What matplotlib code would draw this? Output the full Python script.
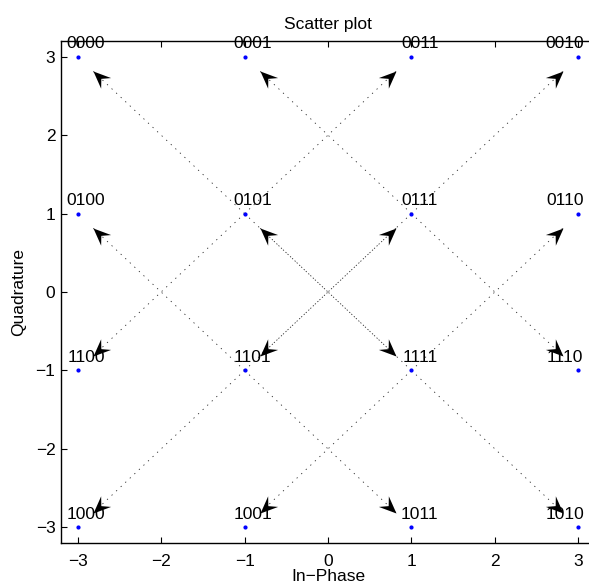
import numpy as np
import matplotlib
matplotlib.use('Agg')
import matplotlib.pyplot as plt
from matplotlib.path import Path
from matplotlib.markers import MarkerStyle
from matplotlib.transforms import Affine2D

plt.rcParams['font.family'] = ['Liberation Sans', 'DejaVu Sans']

# 16-QAM constellation (Gray mapped)
sym_i = [-3, -1, 1, 3, -3, -1, 1, 3, -3, -1, 1, 3, -3, -1, 1, 3]
sym_q = [3, 3, 3, 3, 1, 1, 1, 1, -1, -1, -1, -1, -3, -3, -3, -3]
sym_labels = ['0000', '0001', '0011', '0010',
              '0100', '0101', '0111', '0110',
              '1100', '1101', '1111', '1110',
              '1000', '1001', '1011', '1010']

# transitions drawn as arrows (source symbol -> target symbol)
trans_from = ['0101', '0101', '0101', '0101',
              '0111', '0111', '0111', '0111',
              '1101', '1101', '1101', '1101',
              '1111', '1111', '1111', '1111']
trans_to = ['0000', '0011', '1100', '1111',
            '0001', '0010', '1101', '1110',
            '0100', '1000', '1011', '0111',
            '0101', '0110', '1001', '1010']

x_ticks = [-3, -2, -1, 0, 1, 2, 3]
y_ticks = [-3, -2, -1, 0, 1, 2, 3]

W, H = 589, 583
fig = plt.figure(figsize=(W / 100, H / 100), dpi=100)
ax = fig.add_axes([61 / W, (H - 543) / H, (595 - 61) / W, (543 - 41) / H])
ax.set_xlim(-3.2, 3.2)
ax.set_ylim(-3.2, 3.2)
ax.set_xticks(x_ticks)
ax.set_yticks(y_ticks)

pos = {lab: (x, y) for lab, x, y in zip(sym_labels, sym_i, sym_q)}

head_path = Path([(0, 0), (-1, 0.42), (-0.62, 0), (-1, -0.42), (0, 0)],
                 [Path.MOVETO, Path.LINETO, Path.LINETO, Path.LINETO, Path.CLOSEPOLY])
frac = 0.91
for s, t in zip(trans_from, trans_to):
    x0, y0 = pos[s]
    x1, y1 = pos[t]
    xt = x0 + frac * (x1 - x0)
    yt = y0 + frac * (y1 - y0)
    ax.plot([x0, xt], [y0, yt], color='k', lw=0.6, ls=(0, (1.5, 6)), alpha=0.85)
    p0 = ax.transData.transform((x0, y0))
    p1 = ax.transData.transform((xt, yt))
    ang = np.degrees(np.arctan2(p1[1] - p0[1], p1[0] - p0[0]))
    m = MarkerStyle(head_path, transform=Affine2D().rotate_deg(ang))
    ax.plot([xt], [yt], marker=m, ms=25, color='k', mfc='k', mew=0, ls='none')

ax.plot(sym_i, sym_q, '.', color='b', ms=4)

for lab, x, y in zip(sym_labels, sym_i, sym_q):
    dx = -0.16 if x == max(sym_i) else 0.1
    ax.text(x + dx, y + 0.07, lab, ha='center', va='bottom', fontsize=12.5, color='k')

ax.tick_params(direction='in', top=True, right=True, length=4, width=0.8, labelsize=12.5)
ax.tick_params(axis='x', pad=8)
ax.tick_params(axis='y', pad=4)
for sp in ax.spines.values():
    sp.set_linewidth(1.0)

ax.set_title('Scatter plot', fontsize=12.5, pad=9)
ax.set_xlabel('In\u2212Phase', fontsize=12.5, labelpad=0)
ax.set_ylabel('Quadrature', fontsize=12.5, labelpad=7)

fig.savefig('out.png', dpi=100)
